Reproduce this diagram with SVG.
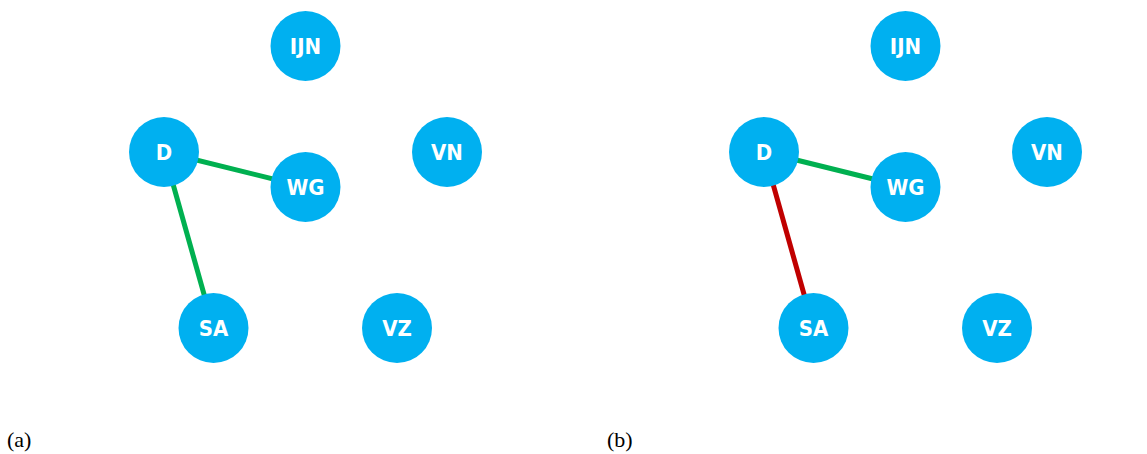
<svg xmlns="http://www.w3.org/2000/svg" width="1147" height="454" viewBox="0 0 1147 454">
  <style>
    .node circle { fill: #00b0f0; }
    .node text { fill: #ffffff; font-family: "DejaVu Sans Condensed", "DejaVu Sans", Verdana, sans-serif; font-stretch: condensed; font-weight: bold; font-size: 22px; text-anchor: middle; dominant-baseline: central; }
    .edge { stroke-width: 5; stroke-linecap: butt; }
    .ok { stroke: #00b050; }
    .bad { stroke: #c00000; }
    .caption { font-family: "Liberation Serif", "Times New Roman", serif; font-size: 22px; fill: #000; }
  </style>
  <rect width="1147" height="454" fill="#ffffff"/>

  <!-- Panel (a) -->
  <g id="panel-a">
    <g id="edges-a">
      <line class="edge ok" x1="164" y1="152" x2="305.5" y2="187"/>
      <line class="edge ok" x1="164" y1="152" x2="213.5" y2="328"/>
    </g>
    <g id="a-IJN" class="node"><circle cx="305.5" cy="46" r="35"/><text x="305.5" y="46">IJN</text></g>
    <g id="a-D" class="node"><circle cx="164" cy="152" r="35"/><text x="164" y="152">D</text></g>
    <g id="a-VN" class="node"><circle cx="447" cy="152" r="35"/><text x="447" y="152">VN</text></g>
    <g id="a-WG" class="node"><circle cx="305.5" cy="187" r="35"/><text x="305.5" y="187">WG</text></g>
    <g id="a-SA" class="node"><circle cx="213.5" cy="328" r="35"/><text x="213.5" y="328">SA</text></g>
    <g id="a-VZ" class="node"><circle cx="397" cy="328" r="35"/><text x="397" y="328">VZ</text></g>
    <text class="caption" x="7" y="447">(a)</text>
  </g>

  <!-- Panel (b) -->
  <g id="panel-b" transform="translate(600,0)">
    <g id="edges-b">
      <line class="edge ok" x1="164" y1="152" x2="305.5" y2="187"/>
      <line class="edge bad" x1="164" y1="152" x2="213.5" y2="328"/>
    </g>
    <g id="b-IJN" class="node"><circle cx="305.5" cy="46" r="35"/><text x="305.5" y="46">IJN</text></g>
    <g id="b-D" class="node"><circle cx="164" cy="152" r="35"/><text x="164" y="152">D</text></g>
    <g id="b-VN" class="node"><circle cx="447" cy="152" r="35"/><text x="447" y="152">VN</text></g>
    <g id="b-WG" class="node"><circle cx="305.5" cy="187" r="35"/><text x="305.5" y="187">WG</text></g>
    <g id="b-SA" class="node"><circle cx="213.5" cy="328" r="35"/><text x="213.5" y="328">SA</text></g>
    <g id="b-VZ" class="node"><circle cx="397" cy="328" r="35"/><text x="397" y="328">VZ</text></g>
    <text class="caption" x="7" y="447">(b)</text>
  </g>
</svg>
